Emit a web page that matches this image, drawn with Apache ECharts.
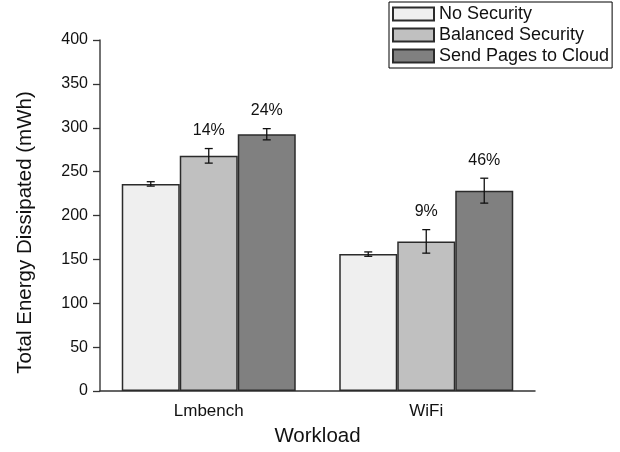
<!DOCTYPE html>
<html>
<head>
<meta charset="utf-8">
<script src="https://cdn.jsdelivr.net/npm/echarts@6/dist/echarts.min.js"></script>
<style>
  html, body { margin: 0; padding: 0; background: #fff; }
  #chart { width: 620px; height: 452px; }
</style>
</head>
<body>
<div id="chart"></div>
<script>
// Workloads on the x axis
var categories = ['Lmbench', 'WiFi'];
var seriesNames = ['No Security', 'Balanced Security', 'Send Pages to Cloud'];

// Mean energy (mWh) per configuration
var noSecurity = [236, 156];
var balancedSecurity = [268, 170.5];
var sendToCloud = [292.6, 228.3];

// Half-width of the error bars (mWh)
var errNoSecurity = [2.5, 2.5];
var errBalanced = [8.3, 13.4];
var errCloud = [6.4, 14.2];

// Overhead labels over the secured bars
var labelsBalanced = ['14%', '9%'];
var labelsCloud = ['24%', '46%'];

var yTicks = [0, 50, 100, 150, 200, 250, 300, 350, 400];

var fills = ['#efefef', '#c0c0c0', '#808080'];
var means = [noSecurity, balancedSecurity, sendToCloud];
var errs = [errNoSecurity, errBalanced, errCloud];
var labels = [null, labelsBalanced, labelsCloud];

var FONT = '"Liberation Sans", Arial, sans-serif';
var CAT_GAP = 0.2;

var chart = echarts.init(document.getElementById('chart'), null, { renderer: 'canvas' });

var series = [];
seriesNames.forEach(function (name, i) {
  series.push({
    name: name,
    type: 'bar',
    data: means[i],
    barGap: '0%',
    barCategoryGap: (CAT_GAP * 100) + '%',
    itemStyle: { color: fills[i], borderColor: '#2b2b2b', borderWidth: 1.5 },
    emphasis: { disabled: true },
    silent: true,
    z: 2
  });
});

// Error bars and overhead labels, positioned over their bar
seriesNames.forEach(function (name, i) {
  var data = means[i].map(function (m, k) {
    return [k, m - errs[i][k], m + errs[i][k], labels[i] ? labels[i][k] : ''];
  });
  series.push({
    type: 'custom',
    name: name + ' error',
    data: data,
    silent: true,
    z: 5,
    renderItem: function (params, api) {
      var k = api.value(0);
      var lo = api.coord([k, api.value(1)]);
      var hi = api.coord([k, api.value(2)]);
      var band = api.size([1, 0])[0];
      var barW = band * (1 - CAT_GAP) / 3;
      var x = lo[0] + (i - 1) * barW;
      var cap = 4;
      var st = { stroke: '#111', lineWidth: 1.3 };
      var children = [
        { type: 'line', shape: { x1: x, y1: lo[1], x2: x, y2: hi[1] }, style: st },
        { type: 'line', shape: { x1: x - cap, y1: lo[1], x2: x + cap, y2: lo[1] }, style: st },
        { type: 'line', shape: { x1: x - cap, y1: hi[1], x2: x + cap, y2: hi[1] }, style: st }
      ];
      var txt = data[params.dataIndex][3];
      if (txt) {
        children.push({
          type: 'text',
          style: {
            text: txt, x: x, y: hi[1] - 10,
            align: 'center', verticalAlign: 'bottom',
            fill: '#111', font: '16px ' + FONT
          }
        });
      }
      return { type: 'group', children: children };
    }
  });
});

chart.setOption({
  animation: false,
  backgroundColor: '#fff',
  textStyle: { fontFamily: FONT },
  grid: { left: 100, right: 85, top: 40, bottom: 59.5 },
  legend: {
    data: seriesNames,
    orient: 'vertical',
    left: 389,
    top: 2,
    padding: [3, 3, 3, 3],
    itemGap: 3,
    itemWidth: 41,
    itemHeight: 13,
    icon: 'rect',
    borderColor: '#000',
    borderWidth: 1,
    borderRadius: 0,
    backgroundColor: '#fff',
    textStyle: { fontSize: 18, color: '#111', fontFamily: FONT },
    selectedMode: false
  },
  xAxis: {
    type: 'category',
    data: categories,
    name: 'Workload',
    nameLocation: 'middle',
    nameGap: 35,
    nameTextStyle: { fontSize: 20.5, color: '#111', fontFamily: FONT },
    axisLine: { lineStyle: { color: '#333', width: 1.5 } },
    axisTick: { alignWithLabel: true, length: 6, lineStyle: { color: '#333', width: 1.5 } },
    axisLabel: { fontSize: 17, color: '#111', margin: 12, fontFamily: FONT },
    splitLine: { show: false }
  },
  yAxis: {
    type: 'value',
    min: yTicks[0],
    max: yTicks[yTicks.length - 1],
    interval: yTicks[1] - yTicks[0],
    name: 'Total Energy Dissipated (mWh)',
    nameLocation: 'middle',
    nameGap: 64,
    nameTextStyle: { fontSize: 20.5, color: '#111', fontFamily: FONT, padding: [0, 34, 0, 0] },
    axisLine: { show: true, lineStyle: { color: '#444', width: 1.5 } },
    axisTick: { show: true, length: 7, lineStyle: { color: '#333', width: 1.3 } },
    axisLabel: { fontSize: 16, color: '#111', margin: 12, fontFamily: FONT },
    splitLine: { show: false }
  },
  series: series
});
</script>
</body>
</html>
